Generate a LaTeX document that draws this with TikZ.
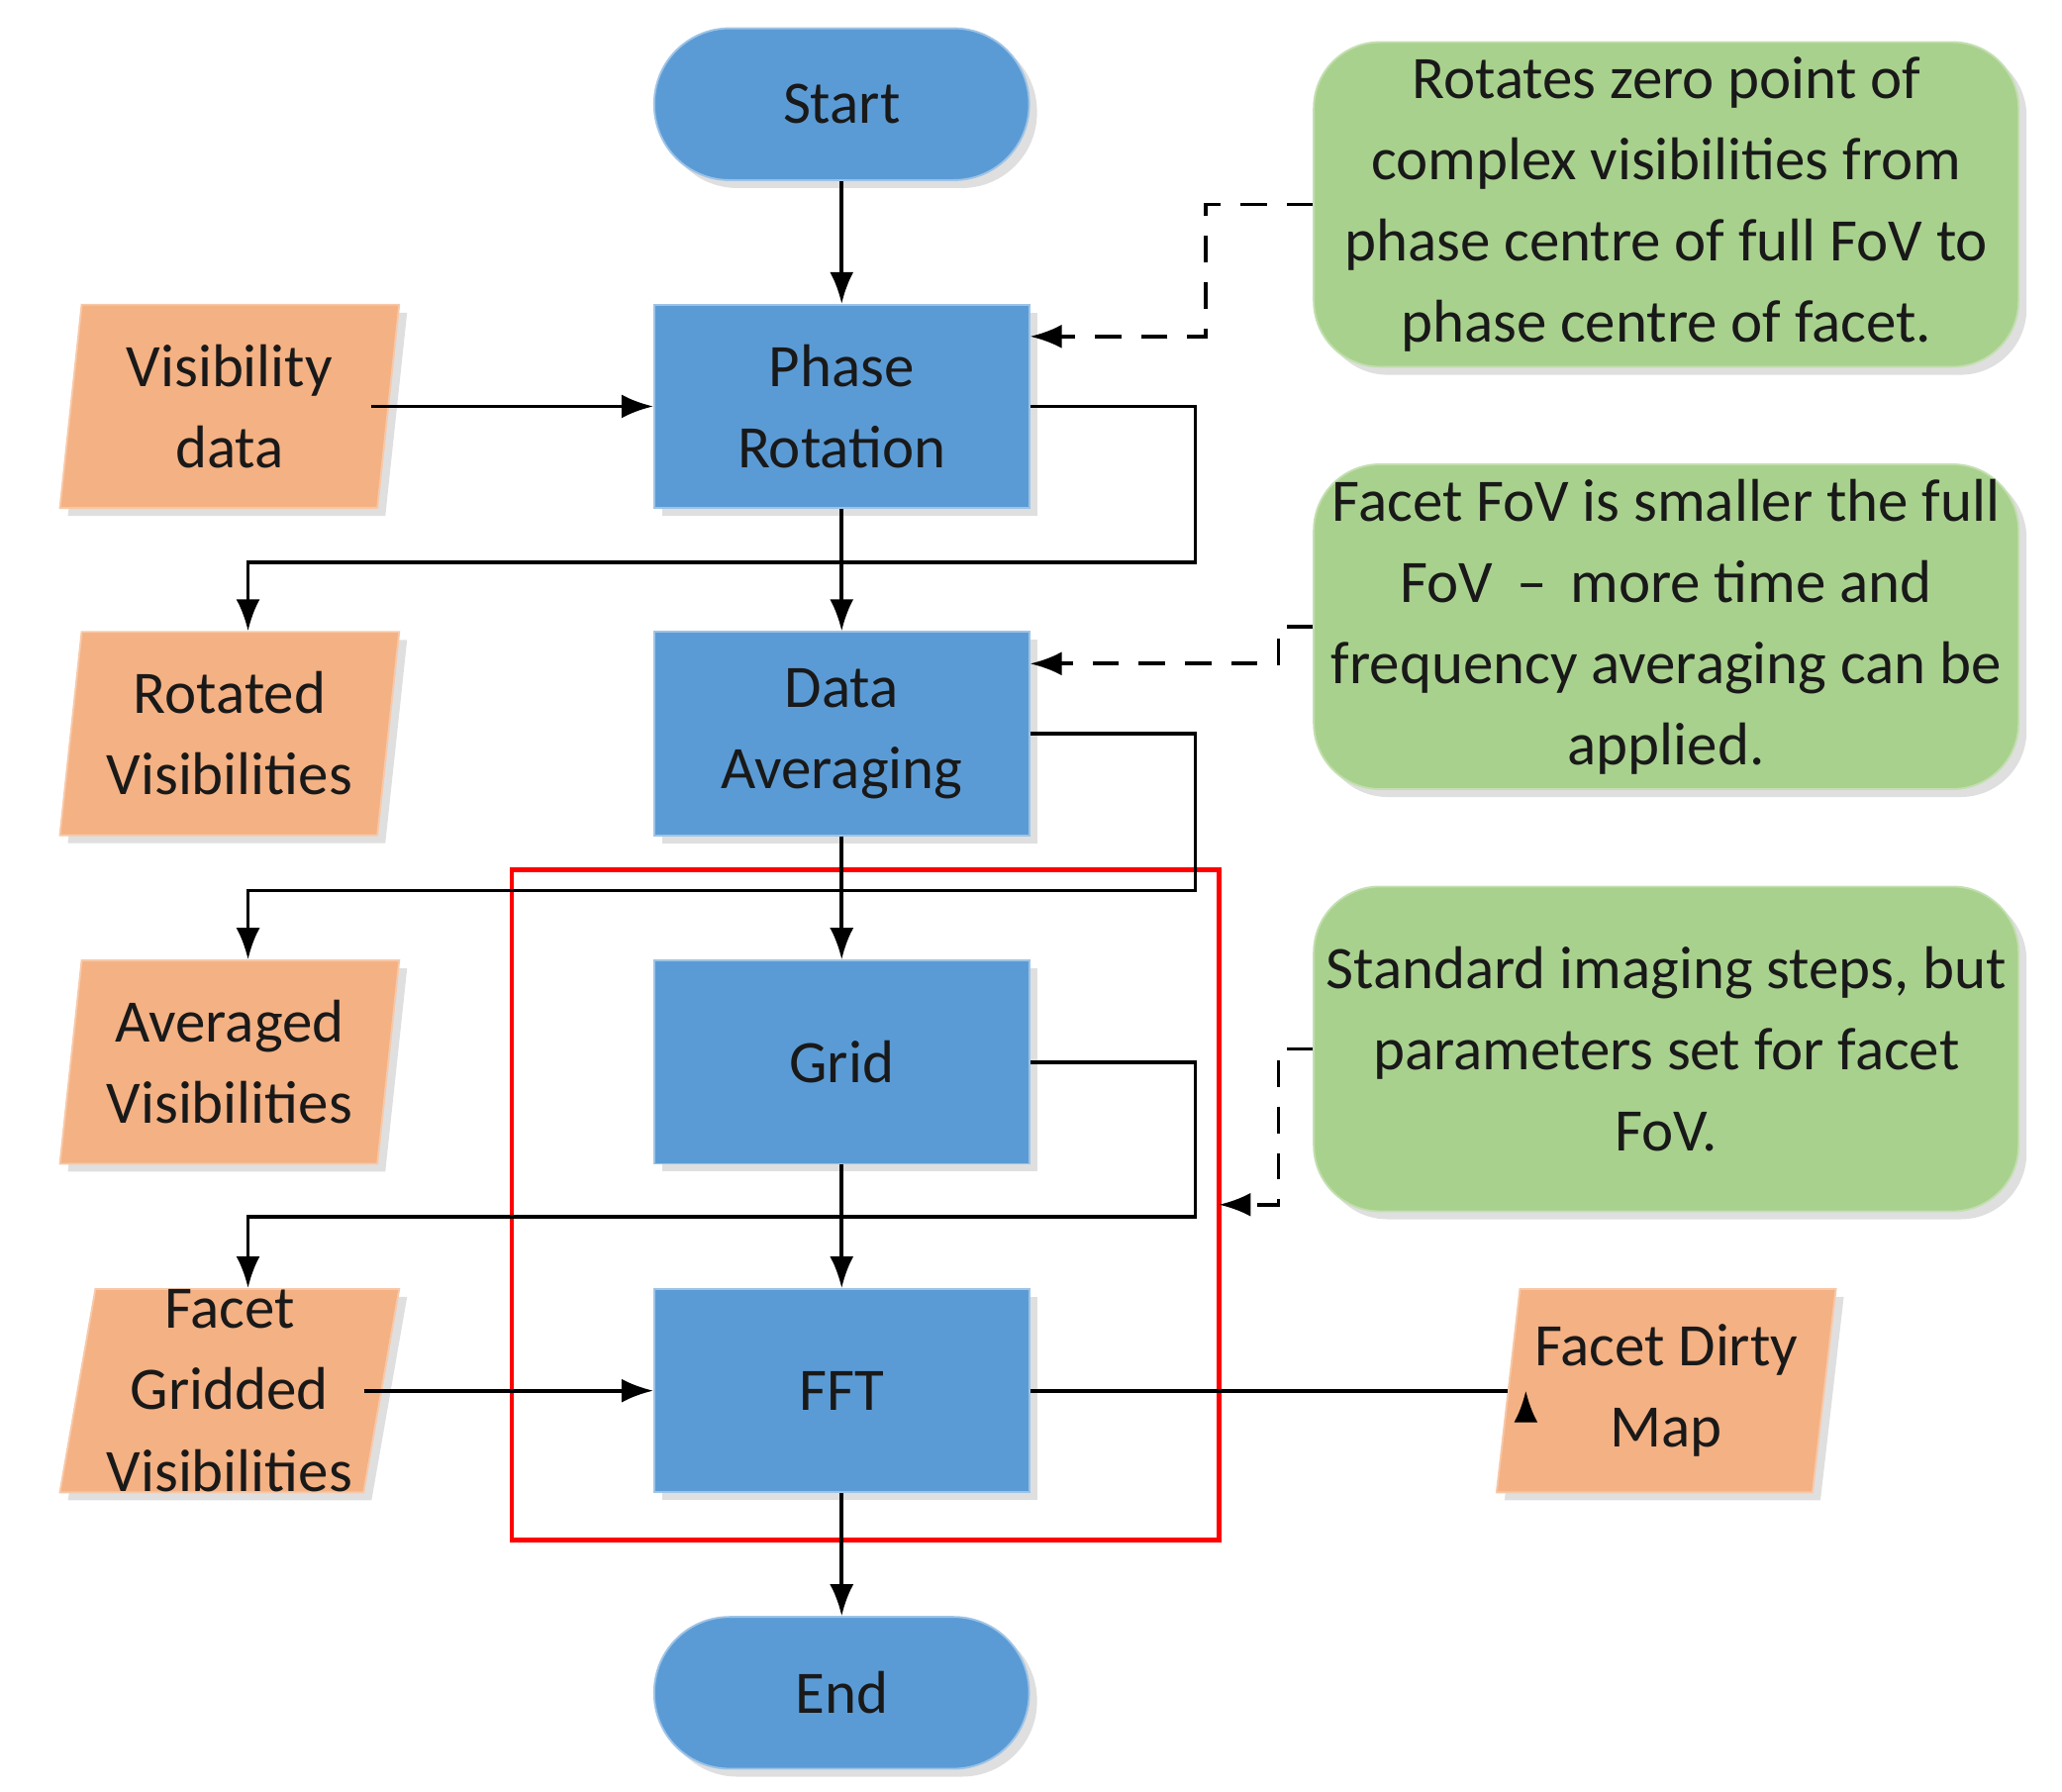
\documentclass[tikz,border=0pt]{standalone}
\usepackage{fontspec}
\setmainfont{Carlito}
\usetikzlibrary{shapes.geometric,arrows.meta,shadows}
\definecolor{bl}{HTML}{5B9BD5}
\definecolor{og}{HTML}{F4B183}
\definecolor{gr}{HTML}{A9D18E}
\begin{document}
\begin{tikzpicture}[x=0.01cm,y=-0.01cm,
  every node/.style={font=\fontsize{13}{15.5}\selectfont, text=black!90, align=center, inner sep=0pt},
  sh/.style={drop shadow={shadow xshift=0.6mm,shadow yshift=-0.6mm,opacity=0.25}},
  proc/.style={draw=bl!60!white, fill=bl, minimum width=2.84cm, minimum height=1.54cm, sh},
  term/.style={proc, rounded corners=0.57cm, minimum height=1.15cm},
  io/.style={trapezium, trapezium left angle=80, trapezium right angle=100, trapezium stretches body, draw=og!70!white, fill=og, minimum width=2.57cm, minimum height=1.54cm, sh},
  note/.style={draw=gr!70!white, fill=gr, rounded corners=0.5cm, minimum width=5.34cm, minimum height=2.46cm, sh},
  arr/.style={-{Latex[length=2.4mm,width=1.8mm]}, line width=0.8pt},
  dsh/.style={arr, dashed, dash pattern=on 2mm off 1.5mm}]
\useasboundingbox (0,0) rectangle (1563,1358);
\node[term] (start) at (638,79) {Start};
\node[proc] (pr) at (638,308) {Phase\\[2pt]Rotation};
\node[proc] (da) at (638,556) {Data\\[2pt]Averaging};
\node[proc] (gd) at (638,805) {Grid};
\node[proc] (fft) at (638,1054) {FFT};
\node[term] (end) at (638,1283) {End};
\node[io] (vd) at (174,308) {Visibility\\[2pt]data};
\node[io] (rv) at (174,556) {Rotated\\[2pt]Visibilities};
\node[io] (av) at (174,805) {Averaged\\[2pt]Visibilities};
\node[io] (fg) at (174,1054) {Facet\\[2pt]Gridded\\[2pt]Visibilities};
\node[io] (dm) at (1263,1054) {Facet Dirty\\[2pt]Map};
\node[note] (n1) at (1263,155) {Rotates zero point of\\[2pt]complex visibilities from\\[2pt]phase centre of full FoV to\\[2pt]phase centre of facet.};
\node[note] (n2) at (1263,475) {Facet FoV is smaller the full\\[2pt]FoV \,–\, more time and\\[2pt]frequency averaging can be\\[2pt]applied.};
\node[note] (n3) at (1263,795) {Standard imaging steps, but\\[2pt]parameters set for facet\\[2pt]FoV.};
\draw[red, line width=1pt] (388,659) rectangle (924,1167);
\coordinate (rb) at (924,913);
\draw[arr] (start) -- (pr);
\draw[arr] (pr) -- (da);
\draw[arr] (da) -- (gd);
\draw[arr] (gd) -- (fft);
\draw[arr] (fft) -- (end);
\draw[arr] (vd.east|-0,308) ++(-14,0) -- (pr.west);
\draw[arr] (fg.east|-0,1054) ++(-14,0) -- (fft.west);
\draw[arr] (fft.east) -- (dm.west|-0,1054) ++(14,0);
\draw[arr] (pr.east) -- (906,308) -- (906,426) -- (188,426) -- (rv.north-|188,0);
\draw[arr] (da.east) -- (906,556) -- (906,675) -- (188,675) -- (av.north-|188,0);
\draw[arr] (gd.east) -- (906,805) -- (906,922) -- (188,922) -- (fg.north-|188,0);
\draw[dsh] (n1.west) -- (914,155) -- (914,255) -- (pr.east|-0,255);
\draw[dsh] (n2.west) -- (969,475) -- (969,503) -- (da.east|-0,503);
\draw[dsh] (n3.west) -- (969,795) -- (969,913) -- (rb);
\end{tikzpicture}
\end{document}
